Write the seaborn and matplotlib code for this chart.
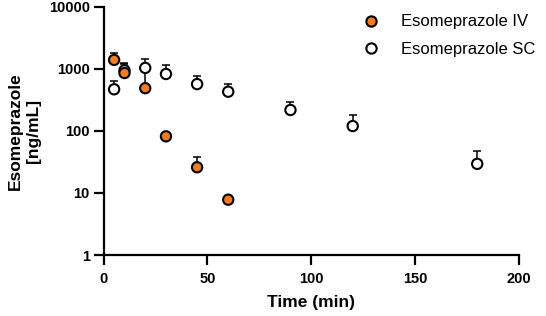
import numpy as np
import pandas as pd
import matplotlib
matplotlib.use("Agg")
import matplotlib.pyplot as plt
import seaborn as sns

sns.set_style("ticks")
plt.rcParams['font.family'] = ['Liberation Sans', 'DejaVu Sans']
plt.rcParams['text.color'] = 'black'
plt.rcParams['axes.labelcolor'] = 'black'

# Esomeprazole IV (mean and upper error)
iv_time = [5, 10, 20, 30, 45, 60]
iv_mean = [1400, 860, 490, 82, 26, 7.8]
iv_upper = [1800, 1200, 1000, 82, 38, 7.8]

# Esomeprazole SC
sc_time = [5, 10, 20, 30, 45, 60, 90, 120, 180]
sc_mean = [470, 950, 1040, 830, 570, 430, 218, 120, 29.5]
sc_upper = [640, 1250, 1450, 1150, 770, 570, 296, 178, 48]

labels = ["Esomeprazole IV", "Esomeprazole SC"]
colors = {"Esomeprazole IV": "#F47C20", "Esomeprazole SC": "white"}

# SC rows first so the IV markers sit on top
df = pd.concat([
    pd.DataFrame({"time": sc_time, "conc": sc_mean, "upper": sc_upper, "group": labels[1]}),
    pd.DataFrame({"time": iv_time, "conc": iv_mean, "upper": iv_upper, "group": labels[0]}),
], ignore_index=True)

fig = plt.figure(figsize=(5.46, 3.16), dpi=100)
ax = fig.add_axes([0.19, 0.193, 0.76, 0.785])

for g in [labels[1], labels[0]]:
    d = df[df.group == g]
    ax.errorbar(d.time, d.conc, yerr=[np.zeros(len(d)), d.upper - d.conc],
                fmt='none', ecolor='black', elinewidth=1.1, capsize=2.6,
                capthick=1.1, zorder=2)

sns.scatterplot(data=df, x="time", y="conc", hue="group", hue_order=labels,
                palette=colors, edgecolor="black", linewidth=1.5, s=55,
                ax=ax, zorder=3)

ax.set_yscale("log")
ax.set_xlim(0, 200)
ax.set_ylim(1, 10000)
ax.set_xticks([0, 50, 100, 150, 200])
ax.set_yticks([1, 10, 100, 1000, 10000])
ax.set_yticklabels(["1", "10", "100", "1000", "10000"])
ax.yaxis.set_minor_locator(matplotlib.ticker.NullLocator())

for side in ["left", "bottom"]:
    ax.spines[side].set_linewidth(1.6)
    ax.spines[side].set_color("black")
sns.despine(ax=ax)
ax.tick_params(width=1.6, length=7, pad=3, labelsize=10.5, colors='black')
ax.tick_params(axis='x', pad=5)
for t in ax.get_xticklabels() + ax.get_yticklabels():
    t.set_fontweight("bold")

ax.set_xlabel("Time (min)", fontsize=12.5, fontweight="bold", labelpad=7)
ax.set_ylabel("Esomeprazole\n[ng/mL]", fontsize=12.5, fontweight="bold", labelpad=6)

leg = ax.legend(loc="upper right", bbox_to_anchor=(1.065, 1.01), frameon=False,
                fontsize=12, handletextpad=0.8, borderaxespad=0.2,
                labelspacing=0.75)
for h in leg.legend_handles:
    h.set_markeredgecolor("black")
    h.set_markeredgewidth(1.5)

fig.savefig("out.png", dpi=100)
